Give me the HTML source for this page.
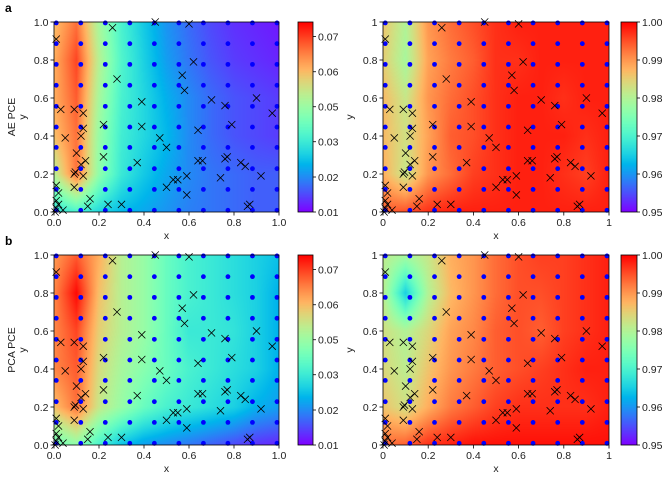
<!DOCTYPE html>
<html><head><meta charset="utf-8">
<style>
body{margin:0;background:#fff;width:664px;height:480px;overflow:hidden;position:relative;font-family:"Liberation Sans",sans-serif}
canvas{position:absolute}
svg{position:absolute;left:0;top:0}
text{font-family:"Liberation Sans",sans-serif;font-size:10.5px;fill:#222}
</style></head>
<body>
<div id="root"></div>
<svg id="svg" width="664" height="480"></svg>
<script>
// ---- data ----
const gridXs = [0.01,0.119,0.228,0.337,0.446,0.555,0.664,0.773,0.882,0.991];
const gridYs = [0.009,0.119,0.228,0.340,0.447,0.556,0.667,0.777,0.886,0.995];
const crossX = [0.01,0.26,0.45,0.6,0.62,0.57,0.28,0.58,0.70,0.76,0.90,0.97,0.39,0.03,0.09,0.13,0.22,0.39,0.79,0.64,0.13,0.05,0.12,0.47,0.50,0.10,0.14,0.22,0.37,0.12,0.64,0.66,0.76,0.77,0.83,0.85,0.09,0.095,0.13,0.59,0.92,0.74,0.53,0.55,0.50,0.09,0.01,0.02,0.59,0.16,0.15,0.24,0.30,0.87,0.86,0.01,0.02,0.01,0.04,0.005];
const crossY = [0.91,0.97,1.0,0.99,0.79,0.72,0.70,0.64,0.59,0.56,0.60,0.52,0.58,0.54,0.54,0.52,0.46,0.45,0.46,0.43,0.44,0.39,0.40,0.39,0.34,0.31,0.27,0.29,0.26,0.25,0.27,0.27,0.28,0.29,0.26,0.24,0.20,0.21,0.19,0.19,0.19,0.18,0.17,0.17,0.13,0.13,0.14,0.10,0.09,0.07,0.03,0.04,0.04,0.04,0.03,0.06,0.04,0.02,0.01,0.0];
const fieldXs = [0,0.1,0.2,0.3,0.4,0.5,0.6,0.7,0.8,0.9,1.0];
const fieldYs = [1.0,0.8,0.6,0.4,0.2,0.0];
const aeErr = [
 [.058,.066,.048,.036,.029,.023,.019,.016,.014,.013,.012],
 [.060,.070,.050,.037,.030,.024,.020,.017,.015,.014,.013],
 [.060,.068,.048,.036,.031,.026,.022,.019,.017,.016,.015],
 [.058,.066,.046,.035,.031,.027,.022,.019,.017,.016,.015],
 [.050,.066,.045,.034,.029,.025,.022,.020,.019,.018,.018],
 [.032,.036,.031,.027,.025,.023,.021,.020,.019,.018,.018]];
const aeR2 = [
 [.986,.980,.990,.993,.995,.997,.998,.998,.998,.998,.998],
 [.985,.979,.989,.992,.994,.997,.997,.998,.998,.998,.998],
 [.987,.982,.990,.993,.995,.997,.998,.998,.997,.998,.998],
 [.987,.983,.989,.994,.995,.997,.998,.998,.998,.997,.998],
 [.988,.982,.990,.993,.996,.997,.998,.998,.997,.996,.998],
 [.994,.995,.997,.998,.998,.998,.998,.998,.998,.998,.998]];
const pcaErr = [
 [.062,.068,.060,.050,.046,.040,.036,.034,.032,.030,.028],
 [.064,.075,.058,.050,.046,.040,.036,.034,.032,.030,.026],
 [.064,.070,.056,.050,.046,.040,.034,.034,.033,.030,.026],
 [.064,.068,.054,.048,.044,.040,.036,.034,.032,.030,.026],
 [.058,.066,.052,.046,.040,.036,.034,.032,.030,.026,.024],
 [.040,.045,.036,.028,.024,.022,.020,.018,.016,.014,.013]];
const pcaR2 = [
 [.981,.979,.982,.988,.990,.993,.995,.996,.996,.997,.998],
 [.981,.965,.980,.987,.990,.993,.995,.995,.996,.997,.998],
 [.983,.980,.984,.989,.991,.994,.995,.994,.996,.997,.998],
 [.984,.981,.986,.990,.992,.994,.995,.996,.997,.998,.998],
 [.986,.983,.988,.992,.994,.996,.997,.997,.997,.997,.998],
 [.993,.994,.997,.998,.999,.999,.999,.999,.999,.999,.999]];
const errTicks = [0.01,0.0221,0.0343,0.0464,0.0585,0.0707];
const r2Ticks = [0.95,0.96,0.97,0.98,0.99,1.00];
const axTicks = [0,0.2,0.4,0.6,0.8,1.0];

// ---- drawing ----
const NS='http://www.w3.org/2000/svg';
const svg=document.getElementById('svg');
const root=document.getElementById('root');
function el(tag,attrs,parent){const e=document.createElementNS(NS,tag);for(const k in attrs)e.setAttribute(k,attrs[k]);(parent||svg).appendChild(e);return e;}
function rainbow(t){t=Math.max(0,Math.min(1,t));
 const r=Math.min(1,Math.abs(2*t-0.5)),g=Math.sin(Math.PI*t),b=Math.cos(Math.PI/2*t);
 return [Math.round(r*255),Math.round(Math.max(0,g)*255),Math.round(Math.max(0,b)*255)];}
function sample(field,x,y){
 let i=Math.min(fieldXs.length-2,Math.floor(x/0.1));let fx=(x-fieldXs[i])/0.1;
 const yy=1-y;let j=Math.min(fieldYs.length-2,Math.floor(yy/0.2));let fy=(yy-(1-fieldYs[j]))/0.2;
 const a=field[j][i],b=field[j][i+1],c=field[j+1][i],d=field[j+1][i+1];
 return a*(1-fx)*(1-fy)+b*fx*(1-fy)+c*(1-fx)*fy+d*fx*fy;}

const panels=[
 {x0:54,x1:279,y0:22,y1:212,field:aeErr,vmin:0.01,vmax:0.0757,ticks:errTicks,cbx:298,cbw:15,fmt:v=>v.toFixed(2),ax:v=>v.toFixed(1),row:'AE PCE',letter:'a',name:'ae-error'},
 {x0:383,x1:609,y0:22,y1:212,field:aeR2,vmin:0.95,vmax:1.0,ticks:r2Ticks,cbx:621,cbw:16,fmt:v=>v.toFixed(2),ax:v=>(v===0||v===1)?String(v):v.toFixed(1),name:'ae-r2'},
 {x0:54,x1:279,y0:255,y1:445,field:pcaErr,vmin:0.01,vmax:0.0757,ticks:errTicks,cbx:298,cbw:15,fmt:v=>v.toFixed(2),ax:v=>v.toFixed(1),row:'PCA PCE',letter:'b',name:'pca-error'},
 {x0:383,x1:609,y0:255,y1:445,field:pcaR2,vmin:0.95,vmax:1.0,ticks:r2Ticks,cbx:621,cbw:16,fmt:v=>v.toFixed(2),ax:v=>(v===0||v===1)?String(v):v.toFixed(1),name:'pca-r2'}];

panels.forEach(p=>{
 const W=p.x1-p.x0,H=p.y1-p.y0;
 const sx=v=>p.x0+v*W, sy=v=>p.y1-v*H;
 const cv=document.createElement('canvas');cv.width=W;cv.height=H;
 cv.style.left=p.x0+'px';cv.style.top=p.y0+'px';
 
 
 root.appendChild(cv);
 const ctx=cv.getContext('2d');const img=ctx.createImageData(W,H);
 for(let py=0;py<H;py++)for(let px=0;px<W;px++){
  const v=sample(p.field,(px+0.5)/W,1-(py+0.5)/H);
  const c=rainbow((v-p.vmin)/(p.vmax-p.vmin));const k=(py*W+px)*4;
  img.data[k]=c[0];img.data[k+1]=c[1];img.data[k+2]=c[2];img.data[k+3]=255;}
 ctx.putImageData(img,0,0);
 const cb=document.createElement('canvas');cb.width=p.cbw;cb.height=H;
 cb.style.left=p.cbx+'px';cb.style.top=p.y0+'px';
 
 
 root.appendChild(cb);
 const c2=cb.getContext('2d');
 for(let py=0;py<H;py++){const c=rainbow(1-(py+0.5)/H);c2.fillStyle=`rgb(${c})`;c2.fillRect(0,py,p.cbw,1);}
 const g=el('g',{});
 
 
 el('rect',{x:p.cbx,y:p.y0,width:p.cbw,height:H,fill:'none',stroke:'#000','stroke-width':0.8},g);
 const cby=v=>p.y1-(v-p.vmin)/(p.vmax-p.vmin)*H;
 p.ticks.forEach(t=>{const y=cby(t);
  el('line',{x1:p.cbx+p.cbw,x2:p.cbx+p.cbw+3,y1:y,y2:y,stroke:'#000','stroke-width':0.8},g);
  const tx=el('text',{x:p.cbx+p.cbw+5,y:y+3.8},g);tx.textContent=p.fmt(t);
  
  });
 gridXs.forEach(gx=>gridYs.forEach(gy=>{
  const d=el('circle',{cx:sx(gx),cy:sy(gy),r:2.4,fill:'#0000ff'},g);
  
  }));
 crossX.forEach((cx,i)=>{const x=sx(cx),y=sy(crossY[i]),s=3.6;
  const pth=el('path',{d:`M${x-s},${y-s}L${x+s},${y+s}M${x-s},${y+s}L${x+s},${y-s}`,stroke:'#000','stroke-width':0.8,fill:'none'},g);
  
  });
 el('rect',{x:p.x0,y:p.y0,width:W,height:H,fill:'none',stroke:'#000','stroke-width':0.8},g);
 axTicks.forEach(t=>{
  const x=sx(t),y=sy(t);
  el('line',{x1:x,x2:x,y1:p.y1,y2:p.y1+3.5,stroke:'#000','stroke-width':0.8},g);
  const tx=el('text',{x:x,y:p.y1+14,'text-anchor':'middle'},g);tx.textContent=p.ax(t);
  
  
  el('line',{x1:p.x0-3.5,x2:p.x0,y1:y,y2:y,stroke:'#000','stroke-width':0.8},g);
  const ty=el('text',{x:p.x0-5.5,y:y+3.8,'text-anchor':'end'},g);ty.textContent=p.ax(t);
  
  });
 const xl=el('text',{x:(p.x0+p.x1)/2,y:p.y1+27,'text-anchor':'middle'},g);xl.textContent='x';
 
 
 const ylx=p.x0-(p.row?28:30);
 const yl=el('text',{x:ylx,y:(p.y0+p.y1)/2,'text-anchor':'middle',transform:`rotate(-90 ${ylx} ${(p.y0+p.y1)/2})`},g);yl.textContent='y';
 
 
 if(p.row){
  const rx=15,ry=(p.y0+p.y1)/2;
  const rl=el('text',{x:rx,y:ry,'text-anchor':'middle',transform:`rotate(-90 ${rx} ${ry})`},g);rl.textContent=p.row;
  
  
  const lt=el('text',{x:5,y:p.y0-10,'font-weight':'bold',style:'font-size:12px;fill:#000'},g);lt.textContent=p.letter;
  
  
 }
});
</script>
</body></html>
